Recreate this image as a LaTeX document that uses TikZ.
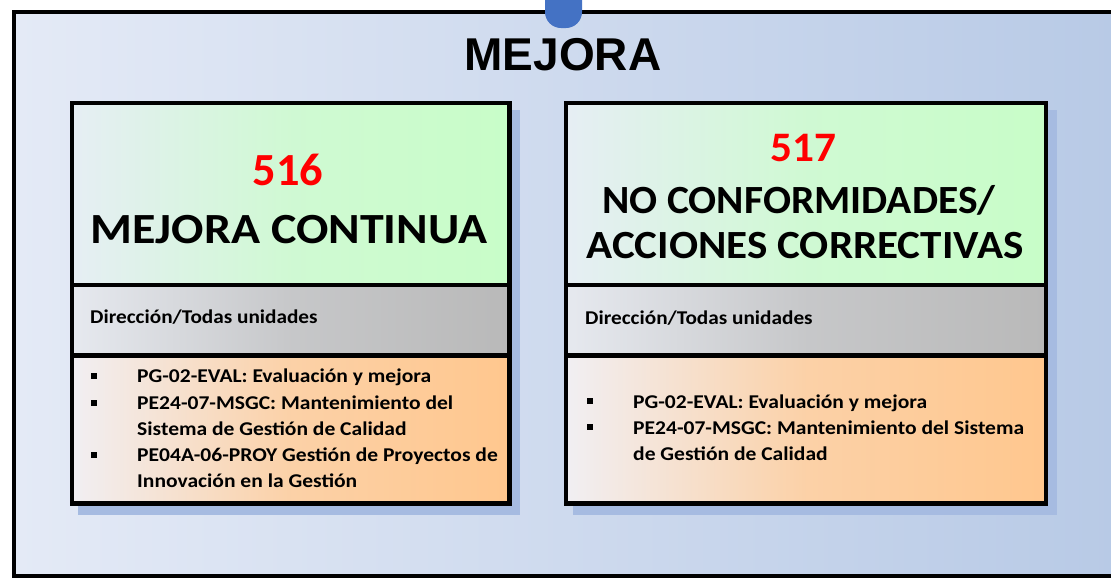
\documentclass[tikz,border=0pt]{standalone}
\usepackage{fontspec}
\usepackage{graphicx}
\setmainfont{Carlito}
\newfontfamily\arialfont{Liberation Sans}
\definecolor{bgA}{HTML}{E4EAF6}
\definecolor{bgB}{HTML}{B8CAE6}
\definecolor{shadowc}{HTML}{A6BBE1}
\definecolor{greenA}{HTML}{E6EEF4}
\definecolor{greenB}{HTML}{C8FDC8}
\definecolor{grayA}{HTML}{E6E9EF}
\definecolor{grayB}{HTML}{B9B9B9}
\definecolor{orangeA}{HTML}{F1EFF3}
\definecolor{orangeB}{HTML}{FFC78E}
\definecolor{tabblue}{HTML}{4472C4}
\definecolor{numred}{HTML}{FF0000}
\newcommand{\wx}[2]{\scalebox{#1}[1]{#2}}
\begin{document}
\begin{tikzpicture}[x=1pt,y=-1pt,
  sec/.style={draw=black, line width=4.5pt, anchor=north west, inner sep=0pt, minimum height=#1},
  greensec/.style={sec=#1, left color=greenA, right color=greenB, middle color=greenB!75!greenA},
  graysec/.style={sec=#1, left color=grayA, right color=grayB, middle color=grayB!70!grayA},
  orangesec/.style={sec=#1, left color=orangeA, right color=orangeB, middle color=orangeB!75!orangeA},
  shadowbox/.style={fill=shadowc, draw=none, anchor=north west, inner sep=0pt},
  numtxt/.style={anchor=base, inner sep=0pt, text=numred, font=\fontsize{#1}{#1}\selectfont\bfseries},
  headtxt/.style={anchor=base, inner sep=0pt, font=\fontsize{#1}{#1}\selectfont\bfseries},
  unittxt/.style={anchor=base west, inner sep=0pt, font=\fontsize{19.5}{19.5}\selectfont\bfseries},
  itemtxt/.style={anchor=base west, inner sep=0pt, font=\fontsize{19.5}{19.5}\selectfont\bfseries},
  bulletsq/.style={fill=black, draw=none, minimum size=6pt, inner sep=0pt},
]
\useasboundingbox (0,0) rectangle (1111,579);
\fill[white] (0,0) rectangle (1111,579);
% outer panel
\shade[left color=bgA, right color=bgB] (14,12) rectangle (1116,576);
\draw[line width=4pt] (14,12) rectangle (1116,576);
% tab
\path[fill=tabblue, rounded corners=16pt] (545,-30) rectangle (582,28);
% title
\node[anchor=base, inner sep=0pt, font=\arialfont\fontsize{46}{46}\selectfont\bfseries] (title) at (563,70) {MEJORA};

% shadows
\node[shadowbox, minimum width=442pt, minimum height=405pt] (sh1) at (78,110) {};
\node[shadowbox, minimum width=484pt, minimum height=405pt] (sh2) at (573,110) {};

% left box
\node[greensec=182pt, minimum width=437.5pt] (g1) at (69.5,100.5) {};
\node[graysec=70.5pt, minimum width=437.5pt] (k1) at (69.5,282.5) {};
\node[orangesec=148pt, minimum width=437.5pt] (o1) at (69.5,353) {};
% right box
\node[greensec=182pt, minimum width=480pt] (g2) at (563.5,100.5) {};
\node[graysec=70.5pt, minimum width=480pt] (k2) at (563.5,282.5) {};
\node[orangesec=148pt, minimum width=480pt] (o2) at (563.5,353) {};

% left texts
\node[numtxt=46] (n516) at (288,185) {\wx{1.01}{516}};
\node[headtxt=43] (h1) at (289,243) {\wx{1.115}{MEJORA CONTINUA}};
\node[unittxt] (u1) at (90,323) {\wx{1.09}{Dirección/Todas unidades}};
\node[bulletsq] (b11) at (94,376) {};
\node[itemtxt] (l11) at (137,382) {\wx{1.105}{PG-02-EVAL: Evaluación y mejora}};
\node[bulletsq] (b12) at (94,403) {};
\node[itemtxt] (l12) at (137,409) {\wx{1.105}{PE24-07-MSGC: Mantenimiento del}};
\node[itemtxt] (l13) at (137,435) {\wx{1.105}{Sistema de Gestión de Calidad}};
\node[bulletsq] (b14) at (94,455) {};
\node[itemtxt] (l14) at (137,461) {\wx{1.105}{PE04A-06-PROY Gestión de Proyectos de}};
\node[itemtxt] (l15) at (137,487) {\wx{1.105}{Innovación en la Gestión}};

% right texts
\node[numtxt=42] (n517) at (803.5,161) {\wx{1.03}{517}};
\node[headtxt=40] (h2a) at (799,213) {\wx{1.037}{NO CONFORMIDADES/}};
\node[headtxt=40] (h2b) at (805,258) {\wx{1.077}{ACCIONES CORRECTIVAS}};
\node[unittxt] (u2) at (585,324) {\wx{1.09}{Dirección/Todas unidades}};
\node[bulletsq] (b21) at (590,401) {};
\node[itemtxt] (l21) at (633,408) {\wx{1.105}{PG-02-EVAL: Evaluación y mejora}};
\node[bulletsq] (b22) at (590,427) {};
\node[itemtxt] (l22) at (633,434) {\wx{1.105}{PE24-07-MSGC: Mantenimiento del Sistema}};
\node[itemtxt] (l23) at (633,460) {\wx{1.105}{de Gestión de Calidad}};
\end{tikzpicture}
\end{document}
